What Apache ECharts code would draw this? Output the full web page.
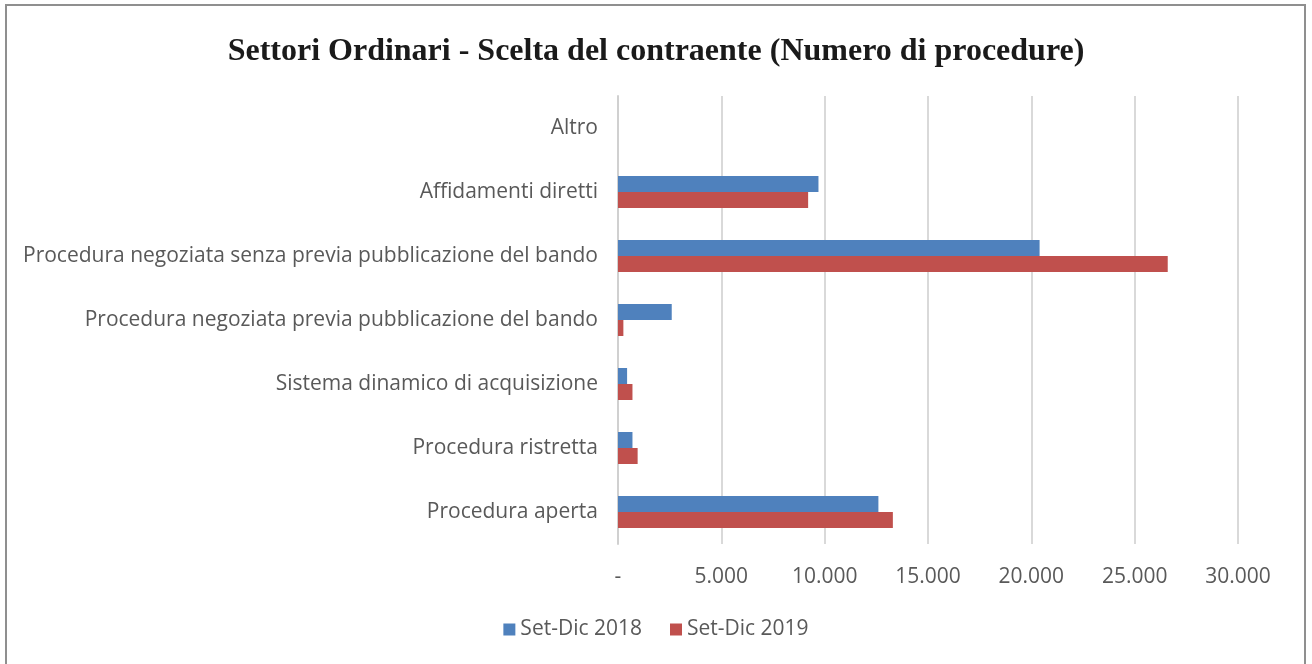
<!DOCTYPE html>
<html>
<head>
<meta charset="utf-8">
<script src="https://cdn.jsdelivr.net/npm/echarts@6/dist/echarts.min.js"></script>
<style>
  html, body { margin: 0; padding: 0; background: #fff; }
  #chart { width: 1312px; height: 664px; }
</style>
</head>
<body>
<div id="chart"></div>
<script>
// categorie dall'alto verso il basso
var categories = [
  'Altro',
  'Affidamenti diretti',
  'Procedura negoziata senza previa pubblicazione del bando',
  'Procedura negoziata previa pubblicazione del bando',
  'Sistema dinamico di acquisizione',
  'Procedura ristretta',
  'Procedura aperta'
]
var seriesNames = ['Set-Dic 2018', 'Set-Dic 2019']
var values2018 = [0, 9700, 20400, 2600, 440, 700, 12600]
var values2019 = [0, 9200, 26600, 260, 700, 950, 13300]

var myChart = echarts.init(document.getElementById('chart'))

var labelFont = '"Open Sans", "DejaVu Sans", sans-serif'

var option = {
  animation: false,
  title: {
    text: 'Settori Ordinari - Scelta del contraente (Numero di procedure)',
    left: 'center',
    top: 31,
    textStyle: {
      fontFamily: '"Liberation Serif", "DejaVu Serif", serif',
      fontWeight: 'bold',
      fontSize: 32,
      color: '#1a1a1a'
    }
  },
  legend: {
    data: seriesNames,
    bottom: 19,
    left: 'center',
    itemWidth: 12,
    itemHeight: 12,
    itemGap: 28,
    icon: 'rect',
    textStyle: { fontFamily: labelFont, fontSize: 21, color: '#595959' }
  },
  grid: {
    left: 618,
    top: 96,
    width: 620,
    height: 448,
    containLabel: false
  },
  xAxis: {
    type: 'value',
    min: 0,
    max: 30000,
    interval: 5000,
    axisLine: { show: false },
    axisTick: { show: false },
    splitLine: { lineStyle: { color: '#d9d9d9', width: 2 } },
    axisLabel: {
      margin: 23,
      fontFamily: labelFont,
      fontSize: 21,
      color: '#595959',
      formatter: function (v) {
        if (v === 0) return '-'
        return v.toLocaleString('it-IT')
      }
    }
  },
  yAxis: {
    type: 'category',
    data: categories,
    inverse: true,
    axisTick: { show: false },
    axisLine: { lineStyle: { color: '#d0d0d0', width: 2 } },
    axisLabel: {
      margin: 20,
      fontFamily: labelFont,
      fontSize: 21,
      color: '#595959'
    }
  },
  series: [
    {
      name: seriesNames[0],
      type: 'bar',
      data: values2018,
      barGap: '0%',
      barCategoryGap: '50%',
      itemStyle: { color: '#4f81bd' }
    },
    {
      name: seriesNames[1],
      type: 'bar',
      data: values2019,
      barGap: '0%',
      barCategoryGap: '50%',
      itemStyle: { color: '#c0504d' }
    }
  ],
  graphic: [
    {
      type: 'rect',
      shape: { x: 6, y: 5, width: 1299, height: 690 },
      style: { fill: 'none', stroke: '#8f8f8f', lineWidth: 2 },
      silent: true
    }
  ]
}
myChart.setOption(option, true)
</script>
</body>
</html>
